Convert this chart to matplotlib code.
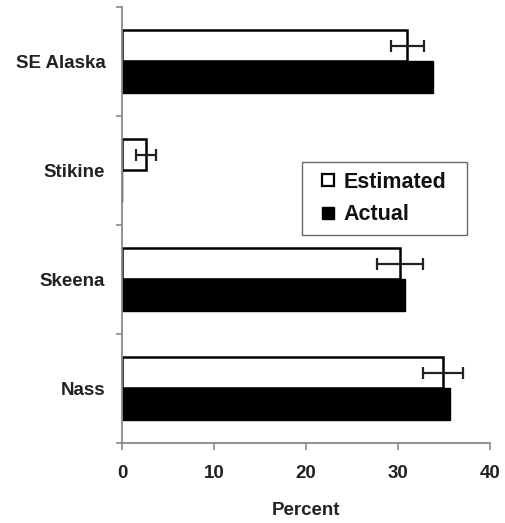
import matplotlib
matplotlib.use("Agg")
import matplotlib.pyplot as plt
from matplotlib.lines import Line2D
import numpy as np

categories = ["Nass", "Skeena", "Stikine", "SE Alaska"]
estimated = [34.9, 30.2, 2.6, 31.0]
estimated_err = [2.2, 2.5, 1.1, 1.8]
actual = [35.7, 30.8, 0.0, 33.8]
xticks = [0, 10, 20, 30, 40]
series_names = ["Estimated", "Actual"]

plt.rcParams['font.family'] = ['Liberation Sans', 'DejaVu Sans']
plt.rcParams['font.weight'] = 'bold'

fig = plt.figure(figsize=(5.05, 5.23), dpi=100)
ax = fig.add_axes([0.2416, 0.153, 0.7284, 0.8337])

y = np.arange(len(categories))
h = 0.29
grey = '#8a8a8a'
ax.barh(y + h / 2, estimated, height=h, color='white', edgecolor='black',
        linewidth=1.8, zorder=2)
ax.errorbar(estimated, y + h / 2, xerr=estimated_err, fmt='none', ecolor='#222222',
            elinewidth=1.6, capsize=4.5, capthick=1.6, zorder=3)
ax.barh(y - h / 2, actual, height=h, color='black', edgecolor='black',
        linewidth=1.0, zorder=2)

ax.set_xlim(0, 40)
ax.set_ylim(-0.5, 3.5)
ax.set_xticks(xticks)
ax.set_xticklabels([str(t) for t in xticks], fontsize=13.5, fontweight='bold', color='#222222')
ax.set_yticks(y)
ax.set_yticklabels(categories, fontsize=13.5, fontweight='bold', color='#222222')
ax.set_yticks(np.arange(-0.5, 3.6, 1.0), minor=True)
ax.tick_params(axis='y', which='major', length=0, pad=12)
ax.tick_params(axis='y', which='minor', length=4, color=grey, width=1.2, direction='out')
ax.tick_params(axis='x', which='major', length=5, color=grey, width=1.2, direction='out', pad=11)
ax.set_xlabel('Percent', fontsize=13.5, fontweight='bold', color='#222222', labelpad=14)

for s in ['top', 'right']:
    ax.spines[s].set_visible(False)
for s in ['left', 'bottom']:
    ax.spines[s].set_color(grey)
    ax.spines[s].set_linewidth(1.3)

handles = [
    Line2D([], [], linestyle='none', marker='s', markersize=8.6,
           markerfacecolor='white', markeredgecolor='black', markeredgewidth=1.6),
    Line2D([], [], linestyle='none', marker='s', markersize=8.6,
           markerfacecolor='black', markeredgecolor='black', markeredgewidth=1.0),
]
ax_h = 443 - 7
leg = ax.legend(handles, series_names, loc='upper left',
                bbox_to_anchor=(0.489, (443 - 162) / ax_h, 0.4485, 0.0),
                mode='expand', fontsize=15.5, frameon=True, fancybox=False,
                handlelength=1.5, handletextpad=0.0,
                borderpad=0.45, labelspacing=0.55, borderaxespad=0)
leg.get_frame().set_edgecolor('#444444')
leg.get_frame().set_linewidth(1.0)
for t in leg.get_texts():
    t.set_fontweight('bold')
    t.set_color('#111111')

fig.savefig('out.png', dpi=100)
